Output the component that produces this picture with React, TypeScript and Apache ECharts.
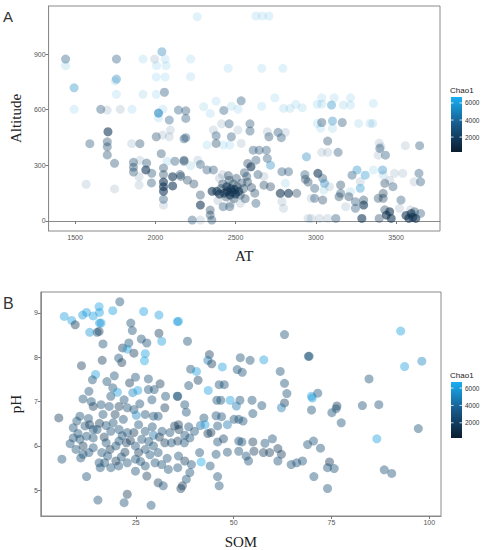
import React, { useEffect, useRef } from 'react';
import * as echarts from 'echarts';

// ---- axis ticks / ranges ----
const atTicks = [1500, 2000, 2500, 3000, 3500];
const altTicks = [0, 300, 600, 900];
const somTicks = [25, 50, 75, 100];
const phTicks = [5, 6, 7, 8, 9];
const chaoTicks = [2000, 4000, 6000];
const chaoMin = 250;
const chaoMax = 6700;
const gradientColors = ['#0a1d2f', '#18598a', '#17aff3'];

// ---- Panel A rows: [AT, Altitude, Chao1, weight(1 faint .. 3 strong)] ----
const pointsA: number[][] = [
  [1441, 873, 2800, 2], [1441, 837, 5500, 1], [1758, 873, 2800, 2], [1923, 873, 5800, 1],
  [1996, 873, 2800, 1], [2041, 913, 4800, 2], [2061, 873, 5800, 1], [2067, 837, 5800, 1],
  [2008, 837, 6000, 1], [2006, 776, 5800, 1], [2061, 776, 5800, 1], [1758, 765, 5000, 2],
  [1750, 755, 5500, 1], [1494, 718, 5200, 2], [1758, 683, 6000, 1], [1923, 683, 5500, 1],
  [2006, 683, 6000, 1], [2057, 694, 2500, 2], [1494, 602, 5800, 1], [1660, 602, 2500, 2],
  [1700, 598, 3000, 1], [1782, 602, 2800, 1], [1855, 602, 6000, 1], [2047, 602, 5800, 1],
  [2020, 582, 5000, 3], [2020, 556, 5800, 1], [2087, 544, 3000, 2], [2144, 598, 2800, 2],
  [2094, 490, 3000, 1], [1705, 481, 1500, 3], [1701, 427, 2000, 2], [1701, 400, 2200, 2],
  [1701, 356, 2200, 2], [1592, 417, 2500, 2], [1746, 311, 2200, 2], [1904, 417, 2000, 2],
  [1853, 417, 3000, 1], [2006, 454, 2000, 2], [2045, 463, 3000, 1], [2087, 454, 3000, 1],
  [2037, 363, 2000, 2], [1569, 198, 3000, 1], [1746, 173, 3000, 1], [1864, 316, 2000, 2],
  [1864, 290, 2000, 2], [1864, 264, 2200, 2], [1904, 327, 3000, 1], [1941, 275, 1500, 3],
  [1946, 312, 2200, 2], [1978, 257, 2200, 2], [1899, 239, 3000, 1], [1899, 194, 3000, 1],
  [2051, 285, 2000, 2], [2051, 250, 1800, 2], [2051, 210, 1500, 3], [2051, 185, 1500, 3],
  [2051, 160, 1500, 3], [2108, 239, 1500, 3], [2108, 189, 1500, 3], [2051, 117, 2500, 2],
  [2051, 85, 3000, 1], [2073, 322, 5500, 1], [2122, 322, 2500, 2], [2179, 443, 2500, 2],
  [2179, 322, 2000, 2], [2155, 250, 1600, 2], [1976, 205, 2200, 2],
  [2261, 1101, 6000, 1], [2627, 1105, 6000, 1], [2667, 1105, 6000, 1], [2708, 1105, 6000, 1],
  [2220, 873, 5800, 1], [2220, 778, 6000, 1], [2454, 823, 6000, 1], [2663, 823, 5800, 1],
  [2795, 823, 5800, 1], [2745, 664, 5800, 1], [2301, 616, 5500, 1], [2342, 580, 6000, 1],
  [2379, 646, 6000, 1], [2427, 596, 2800, 2], [2474, 619, 5500, 1], [2515, 603, 5800, 1],
  [2535, 648, 2500, 2], [2663, 619, 6000, 1], [2799, 607, 5500, 1], [2840, 607, 5500, 1],
  [2875, 629, 5800, 1], [2915, 611, 5500, 1], [3009, 629, 6000, 1], [3009, 526, 6000, 1],
  [2190, 594, 2500, 2], [2190, 553, 2500, 2], [2190, 449, 2500, 2], [2413, 524, 3000, 1],
  [2460, 524, 2500, 2], [2362, 490, 3000, 1], [2590, 524, 2500, 2], [2590, 485, 2500, 2],
  [2515, 490, 3000, 1], [2708, 454, 2000, 2], [2698, 481, 3000, 1], [2765, 478, 2500, 2],
  [2785, 449, 2500, 2], [2810, 478, 3000, 1], [2379, 460, 2500, 2], [2379, 418, 1800, 2],
  [2322, 409, 5800, 1], [2423, 409, 5800, 1], [2464, 409, 5800, 1], [2535, 418, 3000, 1],
  [2474, 454, 2500, 2], [2610, 382, 2500, 2], [2647, 382, 2500, 2], [2692, 382, 2500, 2],
  [2942, 346, 5000, 2], [2179, 328, 1800, 2], [2265, 328, 3000, 1], [2220, 298, 5200, 1],
  [2281, 305, 2500, 2], [2322, 275, 2500, 2], [2362, 275, 2500, 2], [2576, 310, 1600, 2],
  [2596, 292, 1500, 3], [2627, 328, 2500, 2], [2698, 337, 2500, 2], [2718, 301, 5200, 2],
  [2383, 160, 1500, 3], [2400, 145, 1400, 3], [2410, 175, 1500, 2], [2420, 200, 1600, 2],
  [2430, 150, 1400, 3], [2440, 130, 1500, 2], [2445, 185, 1500, 3], [2450, 160, 1300, 3],
  [2460, 220, 1700, 2], [2465, 140, 1400, 3], [2470, 175, 1400, 3], [2480, 155, 1300, 3],
  [2485, 200, 1500, 2], [2490, 120, 1600, 2], [2495, 170, 1400, 3], [2500, 145, 1500, 3],
  [2505, 230, 1800, 2], [2510, 185, 1500, 2], [2520, 160, 1400, 3], [2530, 140, 1600, 2],
  [2540, 205, 1700, 2], [2550, 175, 1500, 2], [2560, 120, 1800, 2], [2570, 240, 2000, 2],
  [2420, 250, 2500, 1], [2390, 110, 2200, 1], [2470, 95, 2500, 1], [2530, 95, 3000, 1],
  [2400, 230, 2200, 1], [2555, 260, 1800, 2], [2575, 210, 1500, 2], [2600, 180, 1600, 2],
  [2620, 150, 1800, 2], [2640, 250, 2200, 2], [2455, 245, 1600, 2], [2354, 160, 1300, 3],
  [2159, 240, 1700, 2], [2200, 220, 1800, 2], [2240, 200, 1800, 2], [2281, 140, 1800, 2],
  [2281, 86, 1500, 3], [2342, 59, 1800, 2], [2342, 32, 1800, 2], [2352, 5, 2000, 2],
  [2230, 5, 2500, 2], [2281, 5, 3000, 1], [2423, 77, 2500, 2], [2464, 77, 2200, 2],
  [2627, 95, 2500, 2], [2677, 240, 2500, 1], [2677, 193, 1700, 2], [2718, 185, 1600, 2],
  [2779, 149, 1400, 3], [2830, 149, 1500, 3], [2881, 149, 1600, 2], [2789, 266, 2500, 2],
  [2830, 266, 2500, 2], [2810, 203, 5500, 1], [2789, 104, 3000, 1], [2799, 68, 3000, 1],
  [2932, 250, 2500, 2], [2952, 210, 1500, 2], [2935, 225, 1800, 2], [2972, 122, 3000, 1],
  [2972, 14, 3000, 1],
  [3037, 664, 6000, 1], [3115, 664, 6000, 1], [3216, 664, 6000, 1], [3037, 630, 5500, 1],
  [3098, 625, 5200, 2], [3172, 625, 5500, 1], [3216, 625, 5500, 1], [3359, 634, 6000, 1],
  [3037, 531, 2000, 2], [3104, 539, 5000, 2], [3165, 531, 2500, 2], [3104, 499, 5500, 1],
  [3267, 526, 5500, 1], [3338, 526, 5500, 1], [3355, 526, 5200, 1], [3030, 500, 6000, 1],
  [3074, 431, 2000, 2], [3037, 370, 3000, 1], [3074, 370, 3000, 1], [3139, 370, 2500, 2],
  [3395, 420, 3000, 1], [3405, 400, 2500, 1], [3399, 391, 2500, 2], [3434, 355, 2500, 2],
  [3389, 355, 3000, 1], [3558, 406, 3000, 1], [3647, 406, 2500, 2], [3013, 257, 1500, 3],
  [3043, 230, 2500, 2], [3054, 203, 5000, 2], [3050, 167, 5500, 1], [2993, 176, 2500, 2],
  [3085, 185, 3000, 1], [3155, 194, 1700, 2], [3155, 149, 2500, 2], [3226, 247, 2500, 2],
  [3257, 275, 5200, 2], [3308, 247, 5500, 2], [3277, 212, 3000, 1], [3277, 176, 5500, 2],
  [3216, 158, 5500, 1], [3206, 131, 1500, 2], [3145, 131, 1500, 2], [3359, 275, 6000, 1],
  [3416, 275, 5000, 2], [3420, 248, 5000, 1], [3430, 203, 1700, 2], [3481, 185, 2500, 2],
  [3460, 220, 3000, 1], [3491, 257, 3000, 1], [3542, 257, 3000, 1], [3643, 257, 2500, 2],
  [3613, 211, 2500, 1], [3653, 211, 2500, 2], [2993, 122, 2500, 2], [3043, 113, 1800, 2],
  [2952, 14, 3000, 1], [3023, 14, 3000, 1], [3074, 14, 3000, 1], [3125, 14, 2500, 2],
  [3186, 77, 3000, 1], [3247, 104, 2500, 2], [3247, 68, 2500, 2], [3298, 86, 1500, 3],
  [3298, 113, 1500, 2], [3287, 14, 1500, 3], [3389, 122, 1800, 2], [3420, 122, 1500, 2],
  [3420, 149, 1500, 2], [3395, 14, 1600, 2], [3440, 32, 1300, 3], [3460, 50, 1300, 3],
  [3470, 14, 1500, 3], [3430, 60, 1500, 2], [3531, 113, 2500, 2], [3521, 68, 3000, 1],
  [3562, 30, 1400, 3], [3580, 14, 1300, 3], [3595, 40, 1300, 3], [3605, 20, 1200, 3],
  [3615, 50, 1500, 2], [3623, 14, 1400, 3], [3590, 60, 2500, 1], [3653, 41, 2500, 2],
];

// ---- Panel B rows: [SOM, pH, Chao1] ----
const pointsB: number[][] = [
  [6.7, 8.92, 6000], [8.6, 8.83, 6000], [9.5, 8.73, 1500], [11.4, 8.95, 5800], [12.4, 9.01, 6000],
  [14.1, 8.93, 6000], [15.6, 9.14, 6200], [15.7, 9.01, 6000], [15.7, 8.77, 6000], [16.1, 8.77, 5800],
  [15.6, 8.58, 1500], [15.1, 8.56, 2600], [13.2, 8.56, 5800], [19.1, 9.05, 6000], [20.9, 9.25, 2600],
  [23.7, 8.77, 2600], [24.1, 8.6, 2600], [23.2, 8.32, 2600], [21.6, 8.21, 1500], [22.8, 8.18, 6000],
  [24.5, 8.09, 1500], [16.6, 8.3, 2600], [16.4, 7.93, 1600], [11.1, 7.81, 1600], [20.6, 7.98, 2600],
  [21.4, 7.88, 1500], [27.0, 9.03, 6000], [30.9, 8.95, 6000], [30.9, 8.54, 1600], [31.6, 8.36, 6000],
  [26.4, 8.41, 2600], [27.8, 8.32, 2600], [27.4, 8.08, 6000], [27.2, 7.92, 6200], [35.6, 8.8, 6000],
  [14.7, 7.61, 6000], [13.9, 7.49, 2600], [13.0, 7.23, 2600], [11.5, 7.06, 2600], [19.5, 7.58, 2600],
  [19.1, 7.31, 2600], [20.3, 7.21, 6000], [18.6, 7.12, 2600], [23.4, 7.42, 1500], [24.9, 7.55, 2600],
  [24.2, 7.2, 5000], [25.5, 7.25, 6000], [22.0, 7.04, 2600], [28.2, 7.51, 2600], [28.2, 7.27, 2600],
  [29.7, 7.27, 2600], [29.1, 7.04, 2600], [32.6, 7.12, 2600], [32.4, 6.86, 1600], [35.6, 7.12, 2600],
  [14.1, 6.89, 1600], [16.1, 6.93, 2600], [16.6, 6.71, 2600], [18.2, 6.89, 2600], [20.7, 6.89, 1600],
  [22.8, 6.86, 2600], [24.5, 6.82, 2600], [25.1, 6.69, 5000], [19.7, 6.71, 1600], [27.4, 6.71, 2600],
  [29.5, 6.67, 2600], [30.7, 6.67, 2600], [10.7, 6.67, 2600], [5.3, 6.63, 1500],
  [9.0, 6.41, 2600], [9.9, 6.56, 2600], [12.0, 6.45, 2600], [13.2, 6.48, 1600], [14.1, 6.37, 2600],
  [15.7, 6.51, 1600], [15.1, 6.37, 2600], [17.4, 6.46, 2600], [18.6, 6.33, 2600], [20.7, 6.37, 2600],
  [22.8, 6.3, 2600], [24.5, 6.3, 1500], [25.7, 6.48, 2600], [27.4, 6.33, 2600], [29.2, 6.43, 2600],
  [29.5, 6.24, 4200], [31.7, 6.33, 2600], [33.7, 6.3, 2600], [34.9, 6.45, 1600], [9.0, 6.18, 2600],
  [10.7, 6.15, 2600], [12.4, 6.22, 2600], [14.1, 6.18, 2600], [9.7, 5.92, 2600], [11.5, 6.0, 1600],
  [13.0, 5.85, 2600], [11.5, 5.81, 2600], [10.9, 5.73, 2600], [14.1, 5.96, 2600], [17.4, 6.07, 2600],
  [18.4, 5.92, 1600], [19.9, 6.0, 2600], [20.7, 6.11, 2600], [22.6, 6.07, 1600], [22.2, 5.86, 1500],
  [24.9, 6.0, 2600], [25.7, 5.85, 1600], [27.4, 5.92, 2600], [29.5, 6.0, 2600], [30.7, 5.85, 2600],
  [32.4, 6.07, 1600], [34.1, 6.07, 2600], [17.8, 5.77, 2600], [17.0, 5.62, 2600], [19.9, 5.66, 1600],
  [20.6, 5.55, 2600], [22.8, 5.62, 2600], [24.9, 5.7, 2600], [24.9, 5.43, 2600], [27.4, 5.55, 2600],
  [29.9, 5.62, 2600], [31.6, 5.58, 2600], [33.3, 5.47, 2600], [15.6, 5.62, 2600], [15.9, 5.51, 2600],
  [18.6, 5.51, 2600], [6.1, 5.7, 2600], [27.8, 5.32, 1600], [30.7, 5.17, 1600], [32.0, 5.1, 2600],
  [12.4, 5.31, 2600], [15.3, 4.78, 2600], [22.0, 4.72, 2600], [22.8, 4.91, 1600], [28.9, 4.66, 2600],
  [8.2, 6.05, 2600], [10.2, 6.28, 2600], [12.9, 6.62, 2600], [16.9, 6.2, 1600], [19.2, 6.52, 2600],
  [21.5, 6.23, 2600], [23.6, 6.12, 1600], [26.5, 6.15, 2600], [28.3, 6.1, 2600], [31.0, 6.2, 1600],
  [16.3, 5.85, 2600], [21.3, 5.75, 2600], [26.2, 5.65, 2600], [28.6, 5.8, 2600], [33.0, 5.72, 2600],
  [13.6, 7.0, 2600], [17.6, 7.45, 2600], [26.0, 6.95, 2600], [31.2, 7.4, 1600], [21.8, 6.6, 2600],
  [35.9, 8.81, 6000], [38.2, 8.36, 2600], [63.0, 8.51, 2600], [43.8, 8.06, 1600], [43.4, 7.93, 4500],
  [44.4, 7.85, 1600], [47.1, 7.78, 6000], [51.7, 7.99, 2600], [54.2, 7.93, 2600], [57.7, 7.94, 6000],
  [39.0, 7.73, 2600], [40.5, 7.68, 6000], [40.9, 7.48, 1600], [38.5, 7.36, 2600], [43.5, 7.25, 6000],
  [46.3, 7.38, 2600], [47.6, 7.38, 2600], [50.9, 7.72, 2600], [52.2, 7.66, 2600], [61.9, 7.68, 2600],
  [63.0, 7.41, 2600], [63.6, 7.18, 2600], [63.0, 6.97, 1600], [62.2, 6.86, 4500], [69.1, 8.02, 2600],
  [69.9, 7.12, 6000], [45.7, 7.03, 2600], [46.7, 7.03, 2600], [49.1, 7.03, 6000], [51.6, 7.03, 2600],
  [50.7, 6.9, 4500], [54.7, 7.03, 2600], [57.2, 6.91, 2600], [54.9, 6.73, 2600], [35.7, 7.12, 2600],
  [37.5, 6.93, 2600], [37.9, 6.76, 2600], [42.4, 6.63, 2600], [45.5, 6.68, 2600], [46.9, 6.66, 2600],
  [48.4, 6.48, 4500], [50.1, 6.6, 2600], [51.3, 6.6, 2600], [52.4, 6.56, 2600], [35.9, 6.48, 1600],
  [36.0, 6.37, 1600], [37.5, 6.24, 2600], [38.5, 6.43, 2600], [40.0, 6.33, 2600], [41.5, 6.46, 4000],
  [43.4, 6.28, 1600], [44.2, 6.3, 1600], [42.7, 6.48, 6000], [45.9, 6.45, 2600], [47.4, 6.16, 1800],
  [45.9, 6.09, 2600], [48.4, 5.86, 2600], [51.3, 6.11, 2600], [52.1, 6.09, 2600], [54.9, 6.09, 1600],
  [55.2, 5.88, 1600], [51.3, 5.88, 2600], [58.0, 6.06, 2600], [59.9, 6.16, 2600], [57.6, 5.85, 1600],
  [59.2, 5.85, 1600], [61.3, 5.94, 1600], [62.2, 5.81, 1600], [61.3, 5.66, 2600], [64.7, 5.58, 2600],
  [66.1, 5.62, 2600], [67.6, 5.66, 2600], [68.9, 6.03, 2600], [35.7, 6.11, 1600], [37.4, 6.07, 2600],
  [38.8, 6.18, 2600], [35.9, 5.77, 2600], [35.7, 5.51, 2600], [37.5, 5.66, 1600], [39.2, 5.58, 2600],
  [38.8, 5.4, 2600], [37.9, 5.25, 2600], [36.9, 5.1, 1600], [36.5, 5.04, 1600], [41.7, 5.64, 6500],
  [44.0, 5.55, 2600], [45.5, 5.81, 2600], [45.9, 5.31, 2600], [46.3, 5.1, 2600], [41.3, 5.85, 2600],
  [53.8, 5.66, 2600], [53.2, 5.77, 2600],
  [69.3, 8.02, 2600], [92.7, 8.59, 6000], [93.7, 7.79, 6000], [98.1, 7.91, 5000], [84.6, 7.51, 2600],
  [71.5, 7.19, 2600], [70.1, 7.08, 6000], [69.9, 6.81, 2600], [76.4, 6.9, 1600], [76.2, 6.84, 2600],
  [75.1, 6.75, 2600], [82.9, 6.91, 2600], [87.1, 6.93, 2600], [77.5, 6.52, 2600], [97.2, 6.39, 2600],
  [86.6, 6.16, 6000], [70.4, 6.11, 2600], [72.2, 5.95, 2600], [74.5, 5.64, 1400], [74.0, 5.51, 2600],
  [75.7, 5.49, 2600], [70.5, 5.31, 2600], [74.0, 5.04, 2600], [88.5, 5.46, 2600], [90.4, 5.38, 2600],
];

const sansFont = 'Liberation Sans, Arial, sans-serif';
const serifFont = 'Liberation Serif, DejaVu Serif, serif';

function colorBar(top: number, left: number, height: number, width: number) {
  const span = chaoMax - chaoMin;
  const els: any[] = [
    {
      type: 'text', left: left - 1, top: top - 11,
      style: { text: 'Chao1', font: `8px ${sansFont}`, fill: '#222' },
    },
    {
      type: 'rect', shape: { x: left, y: top, width, height },
      style: {
        fill: new echarts.graphic.LinearGradient(0, 1, 0, 0, gradientColors.map((c, i) => ({
          offset: i / (gradientColors.length - 1), color: c,
        }))),
      },
    },
  ];
  chaoTicks.forEach((v) => {
    const y = top + ((chaoMax - v) / span) * height;
    els.push({ type: 'line', shape: { x1: left, y1: y, x2: left + 2.5, y2: y }, style: { stroke: '#fff', lineWidth: 0.8 } });
    els.push({ type: 'line', shape: { x1: left + width - 2.5, y1: y, x2: left + width, y2: y }, style: { stroke: '#fff', lineWidth: 0.8 } });
    els.push({
      type: 'text', x: left + width + 3, y,
      style: { text: String(v), font: `6.5px ${sansFont}`, fill: '#333', verticalAlign: 'middle', align: 'left' },
    });
  });
  return els;
}

function axisCommon(ticks: number[]) {
  return {
    type: 'value' as const,
    splitLine: { show: false },
    axisLine: { show: true, lineStyle: { color: '#8a8a8a', width: 1 } },
    axisTick: { show: true, length: 3, lineStyle: { color: '#777' }, customValues: ticks },
    axisLabel: {
      customValues: ticks, fontSize: 7, color: '#555', margin: 3, fontFamily: sansFont,
      formatter: (v: number) => String(v),
    },
  };
}

export default function App() {
  const ref = useRef<HTMLDivElement>(null);
  useEffect(() => {
    if (!ref.current) return;
    const chart = echarts.init(ref.current, null, { renderer: 'svg' });
    const option: any = {
      animation: false,
      backgroundColor: '#fff',
      grid: [
        { left: 40, top: 6, width: 400, height: 225, show: true, borderColor: '#8a8a8a', borderWidth: 1 },
        { left: 33, top: 292, width: 408, height: 225, show: true, borderColor: '#8a8a8a', borderWidth: 1 },
      ],
      xAxis: [
        {
          ...axisCommon(atTicks), gridIndex: 0, min: 1335, max: 3774,
          name: 'AT', nameLocation: 'middle', nameGap: 17,
          nameTextStyle: { fontFamily: serifFont, fontSize: 15, color: '#222', verticalAlign: 'top' },
        },
        {
          ...axisCommon(somTicks), gridIndex: 1, min: 0.7, max: 103,
          name: 'SOM', nameLocation: 'middle', nameGap: 18,
          nameTextStyle: { fontFamily: serifFont, fontSize: 15, color: '#222', verticalAlign: 'top' },
        },
      ],
      yAxis: [
        {
          ...axisCommon(altTicks), gridIndex: 0, min: -54, max: 1159,
          name: 'Altitude', nameLocation: 'middle', nameGap: 22, nameRotate: 90,
          nameTextStyle: { fontFamily: serifFont, fontSize: 15, color: '#222' },
        },
        {
          ...axisCommon(phTicks), gridIndex: 1, min: 4.42, max: 9.47,
          name: 'pH', nameLocation: 'middle', nameGap: 15, nameRotate: 90,
          nameTextStyle: { fontFamily: serifFont, fontSize: 15, color: '#222' },
        },
      ],
      visualMap: [
        { type: 'continuous', show: false, seriesIndex: 0, dimension: 2, min: chaoMin, max: chaoMax, inRange: { color: gradientColors } },
        { type: 'continuous', show: false, seriesIndex: 0, dimension: 3, min: 1, max: 3, inRange: { opacity: [0.13, 0.58] } },
        {
          type: 'continuous', show: false, seriesIndex: 1, dimension: 2, min: chaoMin, max: chaoMax,
          inRange: { color: gradientColors, opacity: [0.42, 0.42] },
        },
      ],
      series: [
        {
          type: 'scatter', name: 'A', xAxisIndex: 0, yAxisIndex: 0, symbolSize: 9,
          encode: { x: 0, y: 1 }, data: pointsA, silent: true,
        },
        {
          type: 'scatter', name: 'B', xAxisIndex: 1, yAxisIndex: 1, symbolSize: 9,
          encode: { x: 0, y: 1 }, data: pointsB, silent: true,
        },
      ],
      graphic: [
        { type: 'text', left: 3, top: 9, style: { text: 'A', font: `15px ${sansFont}`, fill: '#333' } },
        { type: 'text', left: 3, top: 295, style: { text: 'B', font: `16px ${sansFont}`, fill: '#333' } },
        ...colorBar(97, 451, 55, 11),
        ...colorBar(382, 451, 56, 11),
      ],
    };
    chart.setOption(option);
    return () => chart.dispose();
  }, []);
  return <div ref={ref} style={{ position: 'fixed', left: 0, top: 0, width: 484, height: 550 }} />;
}
